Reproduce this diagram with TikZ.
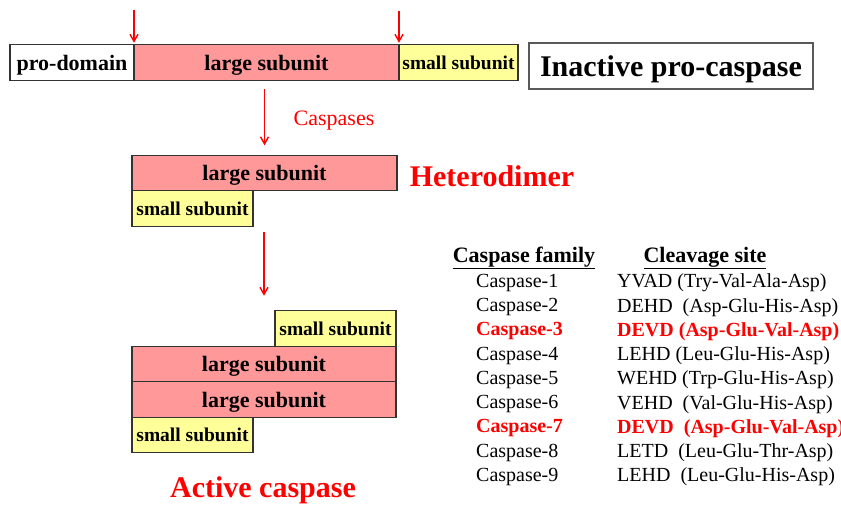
\documentclass[tikz,border=0pt]{standalone}
\usepackage{fontspec}
\setmainfont{Liberation Serif}
\usepackage{xcolor}
\usepackage{tikz}
\usetikzlibrary{positioning,calc,arrows.meta}
\definecolor{largepink}{HTML}{FF9999}
\definecolor{smallyellow}{HTML}{FFFF99}
\definecolor{cutred}{HTML}{FF0000}

\begin{document}
\begin{tikzpicture}[x=1pt, y=-1pt,
    unit/.style={draw=black!80, line width=1.1pt, inner sep=0pt, outer sep=0pt, minimum height=35.5, text depth=0pt},
    largebox/.style={unit, fill=largepink, minimum width=265, font=\fontsize{22}{24}\selectfont\bfseries},
    smallbox/.style={unit, fill=smallyellow, minimum width=120, font=\fontsize{19.5}{22}\selectfont\bfseries},
    cut/.style={draw=cutred, line width=1.4pt, -{Straight Barb[length=7pt, width=8pt]}},
    rowtxt/.style={anchor=west, inner sep=0pt, font=\fontsize{20}{22}\selectfont},
    hitxt/.style={rowtxt, text=cutred, font=\fontsize{20}{22}\selectfont\bfseries},
    title/.style={text=cutred, font=\fontsize{30}{32}\selectfont\bfseries}]
    \useasboundingbox (0,0) rectangle (841,506);

    % Pro-caspase
    \node[unit, fill=white, minimum width=124, font=\fontsize{22}{24}\selectfont\bfseries] (prodom) at (72,62.5) {pro-domain};
    \node[largebox, right=0pt of prodom] (prolarge) {large subunit};
    \node[smallbox, minimum width=119, right=0pt of prolarge] (prosmall) {small subunit};
    \node[draw=black!65, line width=1.1pt, minimum width=284, minimum height=46, text depth=0pt, font=\fontsize{30}{32}\selectfont\bfseries] (inactive) at (671,66) {Inactive pro-caspase};
    \coordinate (cutA) at (134,10);
    \coordinate (cutB) at (399,11);
    \draw[cut, shorten >=2pt] (cutA) -- (prodom.north east);
    \draw[cut, shorten >=2pt] (cutB) -- (prolarge.north east);

    % Heterodimer
    \node[largebox, minimum width=265] (hetlarge) at (264.5,173) {large subunit};
    \node[smallbox, minimum width=121, anchor=north west] (hetsmall) at (hetlarge.south west) {small subunit};
    \node[title] (hetero) at (492,176) {Heterodimer};
    \draw[cut, shorten <=9pt, shorten >=10pt] (prolarge.south -| hetlarge.north) -- (hetlarge.north);
    \node[text=cutred, font=\fontsize{22}{24}\selectfont] (caspases) at (334,121) {Caspases};

    % Active caspase
    \node[largebox, minimum width=264] (actlargeA) at (264,364) {large subunit};
    \node[largebox, minimum width=264, below=0pt of actlargeA] (actlargeB) {large subunit};
    \node[smallbox, minimum width=121, anchor=south east] (actsmallA) at (actlargeA.north east) {small subunit};
    \node[smallbox, minimum width=121, anchor=north west] (actsmallB) at (actlargeB.south west) {small subunit};
    \node[title] (active) at (263,490) {Active caspase};
    \draw[cut, shorten <=6pt, shorten >=15pt] (hetsmall.south -| actlargeA.north) -- (actsmallA.north -| actlargeA.north);

    % Cleavage table
    \node[font=\fontsize{22}{24}\selectfont\bfseries] (famhead) at (524,258) {\underline{Caspase family}};
    \node[font=\fontsize{22}{24}\selectfont\bfseries] (sitehead) at (705,258) {\underline{Cleavage site}};
    \foreach \i/\site/\sty in {1/{YVAD (Try-Val-Ala-Asp)}/rowtxt,
                               2/{DEHD\ \ (Asp-Glu-His-Asp)}/rowtxt,
                               3/{DEVD (Asp-Glu-Val-Asp)}/hitxt,
                               4/{LEHD (Leu-Glu-His-Asp)}/rowtxt,
                               5/{WEHD (Trp-Glu-His-Asp)}/rowtxt,
                               6/{VEHD\ \ (Val-Glu-His-Asp)}/rowtxt,
                               7/{DEVD\ \ (Asp-Glu-Val-Asp)}/hitxt,
                               8/{LETD\ \ (Leu-Glu-Thr-Asp)}/rowtxt,
                               9/{LEHD\ \ (Leu-Glu-His-Asp)}/rowtxt} {
        \node[\sty] (fam\i) at (476,{283+24.25*(\i-1)}) {Caspase-\i};
        \node[\sty] (site\i) at (617,{283+24.25*(\i-1)}) {\site};
    }
\end{tikzpicture}
\end{document}
